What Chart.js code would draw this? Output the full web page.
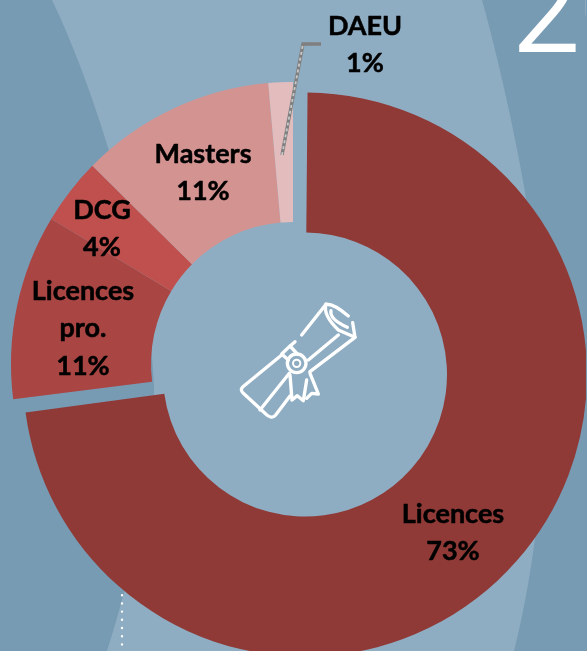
<!DOCTYPE html>
<html><head><meta charset="utf-8">
<style>
html,body{margin:0;padding:0;background:#789BB4;overflow:hidden;width:587px;height:651px}
#wrap{position:absolute;left:0;top:0;width:587px;height:651px;overflow:hidden}
canvas{display:block}
</style>
<script src="https://cdn.jsdelivr.net/npm/chart.js@4"></script>
</head><body><div id="wrap"><canvas id="c" width="586" height="728"></canvas></div>
<script>
const categories = ["Licences","Licences pro.","DCG","Masters","DAEU"];
const labelLines = [["Licences"],["Licences","pro."],["DCG"],["Masters"],["DAEU"]];
const shares = [73.0,10.6,3.8,11.2,1.4];
const sliceColors = ["#8F3A37","#A94543","#C0504D","#D29391","#E3BDBE"];
const sliceOffsets = [64,0,0,0,0];
const yearText = "20";
const labelCenters = [[453,514],[83,291],[102,210],[203,154],[365,26]];
const labelFont = 'bold 27px Lato, Carlito, sans-serif';

const decor = {
  id:'decor',
  afterDatasetsUpdate(chart){
    // Chart.js grows an exploded arc by its shift; keep the ring width equal to the other slices
    chart.getDatasetMeta(0).data.forEach((a,i)=>{
      const s = sliceOffsets[i]/4;
      if(s){ a.outerRadius -= s; a.innerRadius -= s; }
    });
  },
  beforeDraw(chart){
    const x = chart.ctx;
    x.save();
    x.fillStyle = '#789BB4'; x.fillRect(0,0,587,728);
    x.fillStyle = '#8FADC2';
    x.beginPath();
    x.moveTo(52,0);
    x.bezierCurveTo(100,100,150,270,154,385);
    x.bezierCurveTo(156,470,130,580,107,651);
    x.lineTo(514,651);
    x.bezierCurveTo(535,570,548,450,545,370);
    x.bezierCurveTo(543,270,515,120,482,0);
    x.closePath(); x.fill();
    x.strokeStyle = '#fff'; x.lineWidth = 2.4; x.lineCap='round';
    x.setLineDash([0,8.2]);
    x.beginPath(); x.moveTo(122,587); x.lineTo(122,651); x.stroke();
    x.setLineDash([]);
    x.fillStyle = '#fff'; x.strokeStyle='#fff'; x.lineWidth=2; x.lineCap='butt';
    x.font = '300 122px Roboto, sans-serif';
    x.textAlign='left'; x.textBaseline='alphabetic';
    x.fillText(yearText,512,51);
    x.strokeText(yearText,512,51);
    x.restore();
  },
  afterDraw(chart){
    const x = chart.ctx;
    x.save();
    // leader line
    x.lineJoin='miter';
    x.strokeStyle='#7f7f7f'; x.lineWidth=3.4;
    x.beginPath(); x.moveTo(282,155); x.lineTo(303,44); x.lineTo(321,44); x.stroke();
    x.strokeStyle='#c8c8c8'; x.lineWidth=1.8; x.setLineDash([3,3]);
    x.beginPath(); x.moveTo(282,155); x.lineTo(303,44); x.stroke();
    x.setLineDash([]);
    // diploma icon
    x.translate(210,280); x.scale(1/3,1/3);
    x.strokeStyle='#fff'; x.lineWidth=10; x.lineCap='round'; x.lineJoin='round';
    const paths = [
      "M348 73 L275 165",
      "M255 185 L238 200 L215 222 L235 240",
      "M240 198 L262 222",
      "M215 225 L97 322 Q90 330 100 340 L165 400 Q185 420 197 405 L240 348",
      "M150 390 L238 280",
      "M385 165 L295 240",
      "M435 172 L300 275",
      "M348 73 Q370 70 415 108",
      "M348 73 Q338 105 385 150 L435 172 L428 128",
      "M363 92 Q358 118 412 142",
      "M240 285 L246 360 L262 347 L280 362 L290 300",
      "M290 355 L305 340 L325 342 L300 280"
    ];
    paths.forEach(p=>x.stroke(new Path2D(p)));
    x.beginPath(); x.arc(260,250,28,0,Math.PI*2); x.stroke();
    x.lineWidth=6;
    x.beginPath(); x.arc(260,250,11,0,Math.PI*2); x.stroke();
    x.restore();
    // labels
    x.save();
    x.font = labelFont; x.fillStyle='#000'; x.strokeStyle='#000'; x.lineWidth=0.5; x.lineJoin='round';
    x.textAlign='center'; x.textBaseline='middle';
    categories.forEach((c,i)=>{
      const [cx,cy] = labelCenters[i];
      const lines = labelLines[i].concat(Math.round(shares[i])+'%');
      lines.forEach((t,k)=>{ x.fillText(t,cx,cy+k*37.5); x.strokeText(t,cx,cy+k*37.5); });
    });
    x.restore();
  }
};

new Chart(document.getElementById('c'),{
  type:'doughnut',
  data:{labels:categories,datasets:[{
    data:shares,backgroundColor:sliceColors,borderWidth:0,offset:sliceOffsets,
    hoverOffset:0
  }]},
  options:{
    responsive:false,animation:false,radius:282,cutout:'50.35%',
    plugins:{legend:{display:false},tooltip:{enabled:false},title:{display:false}},
    layout:{padding:0}
  },
  plugins:[decor]
});
</script></body></html>
